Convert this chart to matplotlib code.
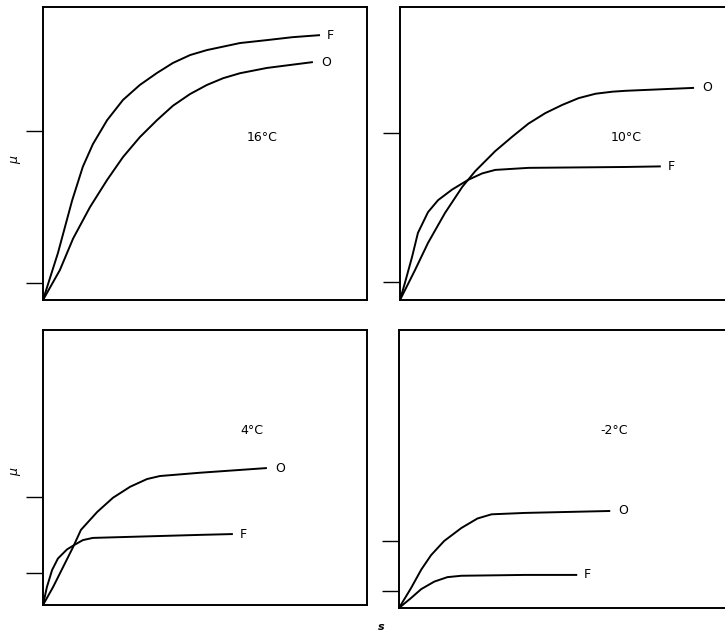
import numpy as np
import matplotlib
matplotlib.use("Agg")
from matplotlib import pyplot as plt

# curve points, in panel units (0-100 on both axes)
# 16 C
f16_x = [0, 4.6, 9.0, 12.3, 15.4, 19.8, 24.7, 29.9, 35.2, 40.1, 45.4, 50.6,
         60.8, 69.1, 77, 85.5]
f16_y = [0, 16.0, 34.0, 45.5, 53.2, 61.4, 68.3, 73.4, 77.5, 80.9, 83.6, 85.3,
         87.7, 88.7, 89.7, 90.4]
o16_x = [0, 5.2, 9.3, 14.5, 19.8, 24.7, 29.9, 35.2, 40.1, 45.4, 50.6, 55.6,
         60.8, 69.1, 76.2, 83.3]
o16_y = [0, 10.2, 21.0, 31.7, 41, 48.8, 55.6, 61.4, 66.3, 70.3, 73.4, 75.7,
         77.4, 79.2, 80.2, 81.2]
# 10 C
f10_x = [0, 1.5, 3.7, 5.5, 8.6, 11.7, 16, 20.9, 25.2, 29.2, 39.4, 69.2, 80]
f10_y = [0, 5.8, 14.7, 22.9, 30.0, 34.1, 37.7, 41, 43.2, 44.4, 45.1, 45.4,
         45.6]
o10_x = [0, 4.6, 8.6, 13.8, 19.1, 23.1, 29.2, 34.5, 39.4, 44.6, 49.8, 54.8,
         60, 65.2, 69.2, 90.2]
o10_y = [0, 10.2, 19.5, 29.7, 38.6, 44.0, 50.8, 55.8, 60.2, 63.8, 66.6, 68.9,
         70.4, 71.1, 71.4, 72.4]
# 4 C
f4_x = [0, 1.2, 2.8, 4.6, 7.4, 9.9, 12.3, 15.4, 48.5, 58.6]
f4_y = [0, 6.5, 12.7, 16.9, 20.2, 22.0, 23.6, 24.4, 25.5, 25.8]
o4_x = [0, 3.1, 6.2, 9.3, 11.7, 16.7, 21.6, 26.9, 32.1, 36.1, 48.5, 69.1]
o4_y = [0, 6.5, 13.8, 21.1, 27.3, 33.8, 39.0, 43.0, 45.8, 46.9, 48.1, 49.8]
# -2 C
fm2_x = [0, 3.7, 6.8, 10.8, 14.8, 19.1, 38.5, 54.5]
fm2_y = [0, 3.6, 6.8, 9.5, 11.1, 11.6, 11.9, 11.9]
om2_x = [0, 3.7, 6.8, 9.8, 13.8, 19.1, 24, 28.3, 38.5, 64.6]
om2_y = [0, 7.2, 13.8, 19.0, 24.1, 28.8, 32.2, 33.7, 34.2, 34.9]

labels = ["16°C", "10°C", "4°C", "-2°C"]
label_pos = [(63, 55.6), (64.6, 55.6), (60.8, 63.6), (61.5, 63.7)]
yticks = [[5.8, 57.7], [6.1, 57], [11.6, 39.3], [6.1, 24.1]]

curves = [
    (f16_x, f16_y, o16_x, o16_y),
    (f10_x, f10_y, o10_x, o10_y),
    (f4_x, f4_y, o4_x, o4_y),
    (fm2_x, fm2_y, om2_x, om2_y),
]

rects = [
    [43 / 725, 331 / 631, 324 / 725, 293 / 631],
    [400 / 725, 331 / 631, 326 / 725, 293 / 631],
    [43 / 725, 26 / 631, 324 / 725, 275 / 631],
    [399 / 725, 23 / 631, 327 / 725, 278 / 631],
]

fig = plt.figure(figsize=(7.25, 6.31), dpi=100)

for i in range(4):
    ax = fig.add_axes(rects[i])
    fx, fy, ox, oy = curves[i]
    ax.plot(fx, fy, color="black", linewidth=1.4, solid_capstyle="butt",
            solid_joinstyle="round")
    ax.plot(ox, oy, color="black", linewidth=1.4, solid_capstyle="butt",
            solid_joinstyle="round")
    ax.text(fx[-1] + 2, fy[-1], "F", fontsize=9, va="center", ha="left")
    ax.text(ox[-1] + 2.5, oy[-1], "O", fontsize=9, va="center", ha="left")
    ax.text(label_pos[i][0], label_pos[i][1], labels[i], fontsize=9,
            ha="left", va="center")
    ax.set_xlim(0, 100)
    ax.set_ylim(0, 100)
    ax.set_xticks([])
    ax.set_yticks(yticks[i])
    ax.set_yticklabels([])
    ax.tick_params(axis="y", direction="out", length=12, width=1.0)
    for sp in ax.spines.values():
        sp.set_linewidth(1.4)
    if i % 2 == 1:
        ax.spines["right"].set_visible(False)

fig.text(15 / 725, 1 - 160 / 631, "μ", rotation=90, fontsize=9,
         style="italic", ha="center", va="center")
fig.text(15 / 725, 1 - 472 / 631, "μ", rotation=90, fontsize=9,
         style="italic", ha="center", va="center")
fig.text(381 / 725, 1 - 627 / 631, "s", fontsize=8, style="italic",
         fontweight="bold", ha="center", va="center")

plt.savefig("out.png", dpi=100)
